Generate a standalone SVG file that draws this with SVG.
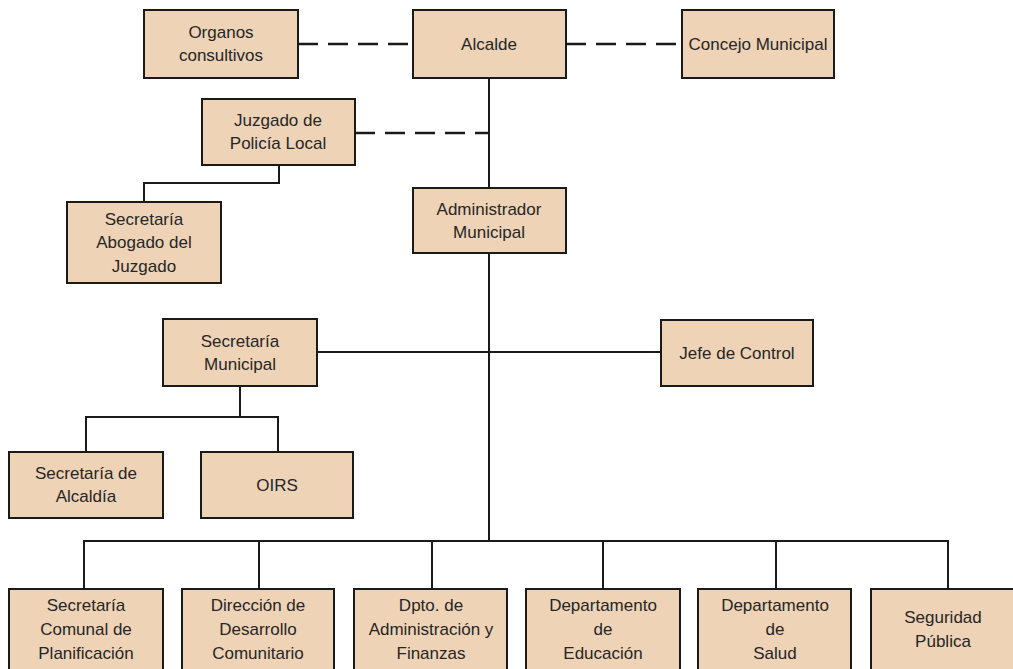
<svg xmlns="http://www.w3.org/2000/svg" width="1013" height="669" viewBox="0 0 1013 669">
<style>
.box{fill:#eed3b6;stroke:#1a1a1a;stroke-width:2}
.t{font-family:"Liberation Sans",Arial,sans-serif;font-size:17px;fill:#262626;text-anchor:middle}
.ln{fill:none;stroke:#1a1a1a;stroke-width:2}
.dash{fill:none;stroke:#1a1a1a;stroke-width:2.5;stroke-dasharray:20 10}
</style>
<rect width="1013" height="669" fill="#ffffff"/>
<g id="connectors">
<path class="dash" d="M298,44 H413"/>
<path class="dash" d="M566,44 H682"/>
<path class="dash" d="M355,133 H489"/>
<path class="ln" d="M489,78 V188"/>
<path class="ln" d="M489,253 V541"/>
<path class="ln" d="M279,165 V183 H144 V202"/>
<path class="ln" d="M317,352 H661"/>
<path class="ln" d="M240,386 V417"/>
<path class="ln" d="M86,452 V417 H278 V452"/>
<path class="ln" d="M84,589 V541 H948 V589"/>
<path class="ln" d="M259,541 V589 M432,541 V589 M603,541 V589 M776,541 V589"/>
</g>
<g id="organos"><rect class="box" x="144" y="10" width="154" height="68"/><text class="t" x="221" y="38">Organos</text><text class="t" x="221" y="61">consultivos</text></g>
<g id="alcalde"><rect class="box" x="413" y="10" width="153" height="68"/><text class="t" x="489" y="50">Alcalde</text></g>
<g id="concejo"><rect class="box" x="682" y="10" width="152" height="68"/><text class="t" x="758" y="50">Concejo Municipal</text></g>
<g id="juzgado"><rect class="box" x="202" y="99" width="153" height="66"/><text class="t" x="278" y="126">Juzgado de</text><text class="t" x="278" y="149">Policía Local</text></g>
<g id="secretaria-abogado"><rect class="box" x="67" y="202" width="154" height="81"/><text class="t" x="144" y="225">Secretaría</text><text class="t" x="144" y="248">Abogado del</text><text class="t" x="144" y="272">Juzgado</text></g>
<g id="administrador"><rect class="box" x="413" y="188" width="153" height="65"/><text class="t" x="489" y="215">Administrador</text><text class="t" x="489" y="238">Municipal</text></g>
<g id="secretaria-municipal"><rect class="box" x="163" y="319" width="154" height="67"/><text class="t" x="240" y="347">Secretaría</text><text class="t" x="240" y="370">Municipal</text></g>
<g id="jefe-control"><rect class="box" x="661" y="320" width="152" height="66"/><text class="t" x="737" y="359">Jefe de Control</text></g>
<g id="secretaria-alcaldia"><rect class="box" x="9" y="452" width="154" height="66"/><text class="t" x="86" y="479">Secretaría de</text><text class="t" x="86" y="502">Alcaldía</text></g>
<g id="oirs"><rect class="box" x="201" y="452" width="152" height="66"/><text class="t" x="277" y="491">OIRS</text></g>
<g id="secplan"><rect class="box" x="9" y="589" width="154" height="90"/><text class="t" x="86" y="611">Secretaría</text><text class="t" x="86" y="635">Comunal de</text><text class="t" x="86" y="659">Planificación</text></g>
<g id="dideco"><rect class="box" x="182" y="589" width="152" height="90"/><text class="t" x="258" y="611">Dirección de</text><text class="t" x="258" y="635">Desarrollo</text><text class="t" x="258" y="659">Comunitario</text></g>
<g id="daf"><rect class="box" x="354" y="589" width="153" height="90"/><text class="t" x="431" y="611">Dpto. de</text><text class="t" x="431" y="635">Administración y</text><text class="t" x="431" y="659">Finanzas</text></g>
<g id="educacion"><rect class="box" x="526" y="589" width="154" height="90"/><text class="t" x="603" y="611">Departamento</text><text class="t" x="603" y="635">de</text><text class="t" x="603" y="659">Educación</text></g>
<g id="salud"><rect class="box" x="698" y="589" width="153" height="90"/><text class="t" x="775" y="611">Departamento</text><text class="t" x="775" y="635">de</text><text class="t" x="775" y="659">Salud</text></g>
<g id="seguridad"><rect class="box" x="871" y="589" width="154" height="90"/><text class="t" x="943" y="623">Seguridad</text><text class="t" x="943" y="647">Pública</text></g>
</svg>
